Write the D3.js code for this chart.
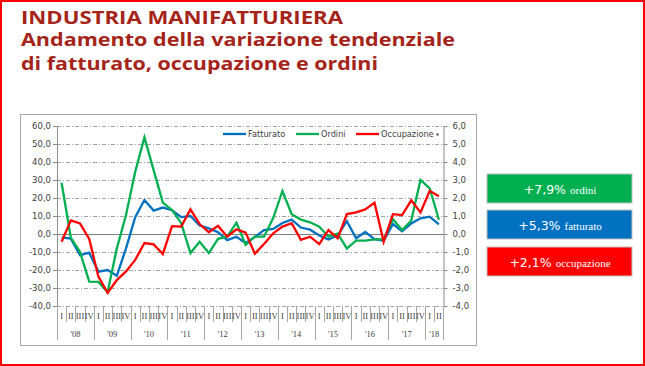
<!DOCTYPE html>
<html><head><meta charset="utf-8">
<script src="https://cdn.jsdelivr.net/npm/d3@7"></script>
<style>body{margin:0;background:#fff} svg{display:block}</style>
</head><body>
<script>
// ---------- data ----------
const years = ["'08","'09","'10","'11","'12","'13","'14","'15","'16","'17","'18"];
const quarterNames = ["I","II","III","IV"];
const fatturato = [-1.9,-2.6,-11.7,-10.4,-20.9,-20.0,-23.2,-8.0,9.3,18.9,13.0,14.7,13.2,9.4,10.0,4.7,3.1,1.0,-3.4,-1.5,-5.0,-1.6,2.2,2.8,6.1,8.0,3.6,2.4,-0.8,-3.0,-0.8,7.1,-2.4,1.1,-2.9,-3.7,5.5,1.5,5.9,8.7,9.6,5.3];
const ordini = [28.5,-2.0,-10.0,-26.5,-26.6,-32.3,-8.0,10.5,34.6,53.7,35.5,17.4,13.3,6.0,-10.6,-4.3,-10.6,-2.7,-1.5,6.3,-6.0,-1.5,-1.5,9.0,23.9,11.0,8.0,6.5,4.1,-1.5,0.2,-8.0,-3.7,-3.7,-3.0,-3.0,8.2,2.2,7.5,30.0,25.4,7.9];
const occupazione = [-0.43,0.76,0.59,-0.27,-2.37,-3.27,-2.56,-2.08,-1.44,-0.50,-0.58,-1.11,0.44,0.41,1.37,0.55,0.10,0.45,-0.15,0.26,0.08,-1.10,-0.55,0.04,0.41,0.60,-0.32,-0.15,-0.56,0.22,-0.24,1.11,1.20,1.37,1.74,-0.43,1.10,1.05,1.87,1.20,2.40,2.10];
const leftTicks = [60,50,40,30,20,10,0,-10,-20,-30,-40];
const rightTicks = [6,5,4,3,2,1,0,-1,-2,-3,-4];
const seriesNames = ["Fatturato","Ordini","Occupazione"];
const seriesColors = ["#0070c0","#00b050","#ff0000"];
const boxValues = ["+7,9%","+5,3%","+2,1%"];
const boxLabels = ["ordini","fatturato","occupazione"];
const boxColors = ["#00b050","#0070c0","#ff0000"];
const titleLines = ["INDUSTRIA MANIFATTURIERA","Andamento della variazione tendenziale","di fatturato, occupazione e ordini"];

// categories
const categories = [];
years.forEach((y,yi)=>{ quarterNames.forEach((q,qi)=>{ if(categories.length<fatturato.length) categories.push({year:y,q:q,key:y+"-"+q}); }); });

const W=645,H=366;
const svg=d3.select("body").append("svg").attr("width",W).attr("height",H);

// outer red frame
svg.append("rect").attr("x",1).attr("y",1).attr("width",W-2).attr("height",H-2)
  .attr("fill","#fff").attr("stroke","#ff0000").attr("stroke-width",2);

// title
const titleSizes=[{y:24,len:322},{y:46,len:434},{y:70,len:357}];
titleLines.forEach((t,i)=>{
  svg.append("text").attr("x",21).attr("y",titleSizes[i].y)
    .attr("font-family","'Open Sans', sans-serif").attr("font-weight","bold").attr("font-size",18.5)
    .attr("fill","#a52419").attr("textLength",titleSizes[i].len).attr("lengthAdjust","spacingAndGlyphs")
    .text(t);
});

// chart panel
svg.append("rect").attr("x",20.5).attr("y",114.5).attr("width",456).attr("height",231)
  .attr("fill","#fff").attr("stroke","#a6a6a6").attr("stroke-width",1);

const x=d3.scaleBand().domain(categories.map(d=>d.key)).range([57,443.5]).padding(0);
const bw=x.bandwidth();
const cx=k=>x(k)+bw/2;
const yL=d3.scaleLinear().domain([-40,60]).range([306,126]);
const yR=d3.scaleLinear().domain([-4,6]).range([306,126]);
const fmt=d=>d.toFixed(1).replace(".",",");

// grid
const g=svg.append("g");
leftTicks.filter(d=>d!==0).forEach(d=>{
  g.append("line").attr("x1",57).attr("x2",443.5).attr("y1",Math.round(yL(d))+0.5).attr("y2",Math.round(yL(d))+0.5)
   .attr("stroke","#8c8c8c").attr("stroke-width",0.8).attr("stroke-dasharray","4,2,1,2");
});

// axes
const axL=svg.append("g").attr("transform","translate(57,0)")
  .call(d3.axisLeft(yL).tickValues(leftTicks).tickFormat(fmt).tickSize(4).tickSizeOuter(0));
const axR=svg.append("g").attr("transform","translate(443.5,0)")
  .call(d3.axisRight(yR).tickValues(rightTicks).tickFormat(fmt).tickSize(4).tickSizeOuter(0));
[axL,axR].forEach(a=>{
  a.select(".domain").attr("stroke","#8c8c8c");
  a.selectAll(".tick line").attr("stroke","#8c8c8c");
  a.selectAll(".tick text").attr("font-family","'DejaVu Sans', sans-serif").attr("font-size",8.5).attr("fill","#404040");
});
axL.selectAll(".tick text").attr("x",-6);
axR.selectAll(".tick text").attr("x",9);

// zero line
svg.append("line").attr("x1",57).attr("x2",443.5).attr("y1",Math.round(yL(0))+0.5).attr("y2",Math.round(yL(0))+0.5)
  .attr("stroke","#7f7f7f").attr("stroke-width",1);

// category axis (label area)
const lab=svg.append("g");
categories.forEach((c,i)=>{
  const xl=x(c.key);
  const isYear=(i%4===0);
  lab.append("line").attr("x1",Math.round(xl)+0.5).attr("x2",Math.round(xl)+0.5)
    .attr("y1",306).attr("y2",isYear?340:322).attr("stroke","#a6a6a6").attr("stroke-width",1);
  lab.append("text").attr("x",cx(c.key)).attr("y",319).attr("text-anchor","middle")
    .attr("font-family","'Liberation Serif', serif").attr("font-size",8.5).attr("fill","#404040").text(c.q);
});
lab.append("line").attr("x1",443.5).attr("x2",443.5).attr("y1",306).attr("y2",340).attr("stroke","#a6a6a6");
years.forEach(y=>{
  const ks=categories.filter(c=>c.year===y).map(c=>c.key);
  const mid=(x(ks[0])+x(ks[ks.length-1])+bw)/2;
  lab.append("text").attr("x",mid).attr("y",337).attr("text-anchor","middle")
    .attr("font-family","'Liberation Serif', serif").attr("font-size",8.5).attr("fill","#404040").text(y);
});

// lines
const seriesData=[fatturato,ordini,occupazione];
const scales=[yL,yL,yR];
seriesData.forEach((arr,si)=>{
  const line=d3.line().x((d,i)=>cx(categories[i].key)).y(d=>scales[si](d));
  svg.append("path").datum(arr).attr("d",line).attr("fill","none")
    .attr("stroke",seriesColors[si]).attr("stroke-width",2.3).attr("stroke-linejoin","miter");
});

// legend
const legX=[223,296,356];
const lg=svg.append("g");
seriesNames.forEach((n,i)=>{
  lg.append("line").attr("x1",legX[i]).attr("x2",legX[i]+23).attr("y1",134).attr("y2",134)
    .attr("stroke",seriesColors[i]).attr("stroke-width",2.3);
  lg.append("text").attr("x",legX[i]+25).attr("y",137).attr("font-family","'DejaVu Sans', sans-serif")
    .attr("font-size",8.2).attr("fill","#404040").text(n);
});
lg.append("circle").attr("cx",437.5).attr("cy",134.5).attr("r",1.2).attr("fill","#595959");

// boxes
const boxY=[174,210,247];
boxValues.forEach((v,i)=>{
  svg.append("rect").attr("x",487).attr("y",boxY[i]).attr("width",145).attr("height",29)
    .attr("fill",boxColors[i]).attr("stroke","#bfbfbf").attr("stroke-width",1);
  const t=svg.append("text").attr("x",560).attr("y",boxY[i]+19.5).attr("text-anchor","middle").attr("fill","#fff");
  t.append("tspan").attr("font-family","'DejaVu Sans', sans-serif").attr("font-size",12.5).text(v);
  t.append("tspan").attr("font-family","'Liberation Serif', serif").attr("font-size",11).attr("dx",4).text(boxLabels[i]);
});
</script>
</body></html>
